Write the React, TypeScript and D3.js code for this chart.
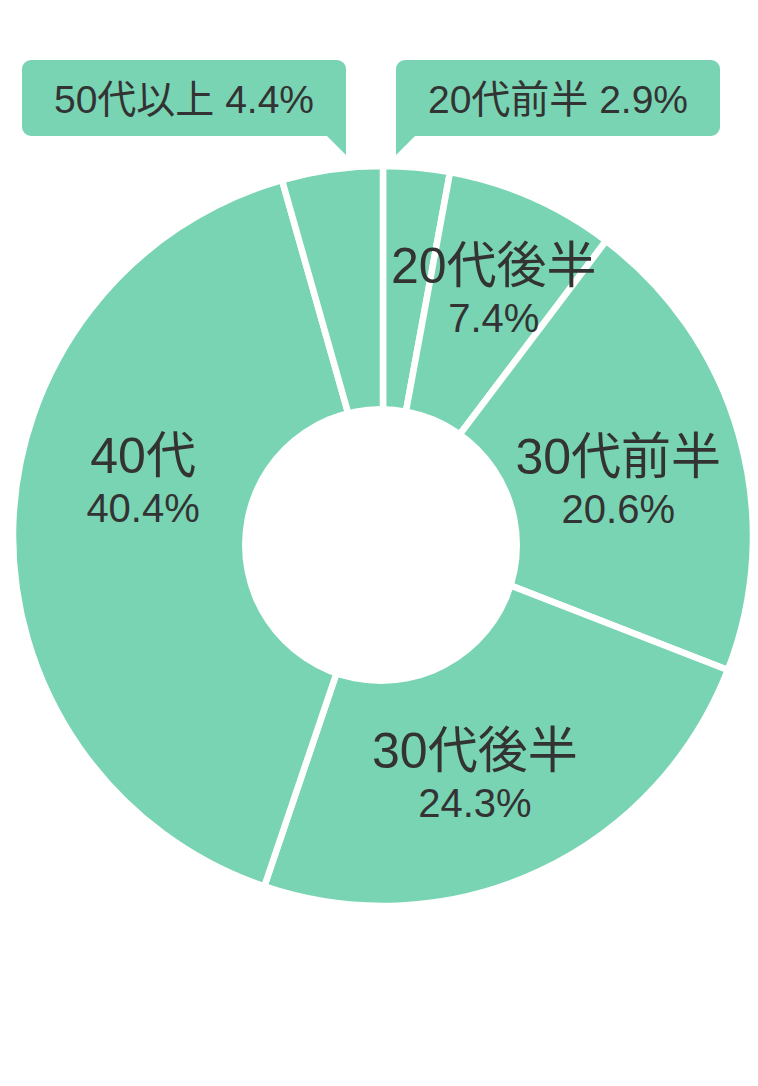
import { useMemo } from 'react';
import * as d3 from 'd3';

// Age distribution (%)
const categories = ['20代前半', '20代後半', '30代前半', '30代後半', '40代', '50代以上'];
const shares = [2.9, 7.4, 20.6, 24.3, 40.4, 4.4];
// slices too thin for an inside label get a speech-bubble callout above the donut
const calloutCategories = ['50代以上', '20代前半'];

const WIDTH = 758;
const HEIGHT = 1086;
const CX = 383;
const CY = 536;
const OUTER = 370;
const HOLE = { dx: -2, dy: 9, r: 139 };
const FILL = '#79d4b3';
const INK = '#333333';
const FONT = '"Liberation Sans", "Noto Sans CJK JP", sans-serif';

// hand-tuned label offsets from the centroid (layout only)
const LABEL_RADIUS = 255;
const labelNudge: Record<string, [number, number]> = {
  '20代後半': [8, -20],
  '30代前半': [-10, 8],
  '30代後半': [-16, 1],
  '40代': [15, -57],
};

// bubble boxes: left/right edge, pointer on which side
const bubbles: Record<string, { x0: number; x1: number; side: 'left' | 'right' }> = {
  '50代以上': { x0: 22, x1: 346, side: 'right' },
  '20代前半': { x0: 396, x1: 720, side: 'left' },
};
const BOX_TOP = 60;
const BOX_BOTTOM = 136;
const TIP_Y = 155;
const CORNER = 9;

function bubblePath(x0: number, x1: number, side: 'left' | 'right') {
  const y0 = BOX_TOP;
  const y1 = BOX_BOTTOM;
  const r = CORNER;
  const p = d3.path();
  if (side === 'right') {
    p.moveTo(x0 + r, y0);
    p.lineTo(x1 - r, y0);
    p.arcTo(x1, y0, x1, y0 + r, r);
    p.lineTo(x1, TIP_Y);
    p.lineTo(x1 - (TIP_Y - y1), y1);
    p.lineTo(x0 + r, y1);
    p.arcTo(x0, y1, x0, y1 - r, r);
    p.lineTo(x0, y0 + r);
    p.arcTo(x0, y0, x0 + r, y0, r);
  } else {
    p.moveTo(x0 + r, y0);
    p.lineTo(x1 - r, y0);
    p.arcTo(x1, y0, x1, y0 + r, r);
    p.lineTo(x1, y1 - r);
    p.arcTo(x1, y1, x1 - r, y1, r);
    p.lineTo(x0 + (TIP_Y - y1), y1);
    p.lineTo(x0, TIP_Y);
    p.lineTo(x0, y0 + r);
    p.arcTo(x0, y0, x0 + r, y0, r);
  }
  p.closePath();
  return p.toString();
}

export default function App() {
  const rows = useMemo(
    () => categories.map((c, i) => ({ category: c, share: shares[i] })),
    []
  );

  const arcs = useMemo(
    () =>
      d3
        .pie<{ category: string; share: number }>()
        .value((d) => d.share)
        .sort(null)(rows),
    [rows]
  );

  const sliceArc = d3
    .arc<d3.PieArcDatum<{ category: string; share: number }>>()
    .innerRadius(0)
    .outerRadius(OUTER);

  const labelArc = d3
    .arc<d3.PieArcDatum<{ category: string; share: number }>>()
    .innerRadius(LABEL_RADIUS)
    .outerRadius(LABEL_RADIUS);

  return (
    <div style={{ position: 'absolute', left: 0, top: 0 }}>
      <svg width={WIDTH} height={HEIGHT} style={{ display: 'block', background: '#fff' }}>
        <g transform={`translate(${CX},${CY})`}>
          {arcs.map((a) => (
            <path
              key={a.data.category}
              d={sliceArc(a) ?? ''}
              fill={FILL}
              stroke="#fff"
              strokeWidth={6.5}
              strokeLinejoin="miter"
            />
          ))}
          <circle cx={HOLE.dx} cy={HOLE.dy} r={HOLE.r} fill="#fff" />

          {arcs
            .filter((a) => !calloutCategories.includes(a.data.category))
            .map((a) => {
              const [lx, ly] = labelArc.centroid(a);
              const [nx, ny] = labelNudge[a.data.category] ?? [0, 0];
              return (
                <g key={a.data.category} transform={`translate(${lx + nx},${ly + ny})`}>
                  <text textAnchor="middle" fontFamily={FONT} fontSize={50} fill={INK}>
                    {a.data.category}
                  </text>
                  <text textAnchor="middle" y={49} fontFamily={FONT} fontSize={40} fill={INK}>
                    {`${a.data.share}%`}
                  </text>
                </g>
              );
            })}
        </g>

        {calloutCategories.map((c) => {
          const b = bubbles[c];
          const share = shares[categories.indexOf(c)];
          return (
            <g key={c}>
              <path d={bubblePath(b.x0, b.x1, b.side)} fill={FILL} />
              <text
                x={(b.x0 + b.x1) / 2}
                y={113}
                textAnchor="middle"
                fontFamily={FONT}
                fontSize={39}
                fill={INK}
              >
                {`${c} ${share}%`}
              </text>
            </g>
          );
        })}
      </svg>
    </div>
  );
}
